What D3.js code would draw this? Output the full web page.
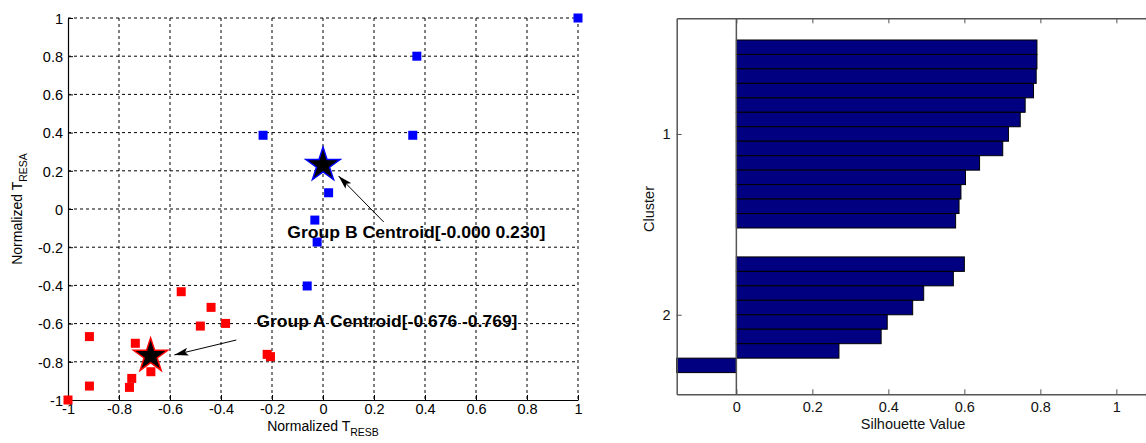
<!DOCTYPE html>
<html><head><meta charset="utf-8">
<script src="https://cdn.jsdelivr.net/npm/d3@7"></script>
<style>
html,body{margin:0;padding:0;background:#fff;}
svg{display:block;font-family:"Liberation Sans",Arial,sans-serif;}
</style></head>
<body>
<svg id="c" width="1146" height="443"></svg>
<script>
// ---------- data ----------
const groupA_x = [-1.000,-0.916,-0.916,-0.556,-0.439,-0.481,-0.382,-0.736,-0.750,-0.759,-0.675,-0.219,-0.206];
const groupA_y = [-1.000,-0.668,-0.927,-0.433,-0.515,-0.613,-0.599,-0.703,-0.887,-0.934,-0.852,-0.761,-0.773];
const groupB_x = [1.000,0.368,0.352,-0.235,0.022,-0.032,-0.023,-0.062];
const groupB_y = [1.000,0.800,0.386,0.386,0.085,-0.058,-0.173,-0.403];
const centroidA = [-0.676,-0.769];
const centroidB = [-0.000,0.230];
const labelA = "Group A Centroid[-0.676 -0.769]";
const labelB = "Group B Centroid[-0.000 0.230]";
const scatterTicks = [-1,-0.8,-0.6,-0.4,-0.2,0,0.2,0.4,0.6,0.8,1];

const clusterNames = ["1","2"];
const silhouette1 = [0.791,0.791,0.789,0.782,0.760,0.747,0.716,0.701,0.640,0.603,0.591,0.586,0.577];
const silhouette2 = [0.600,0.571,0.493,0.464,0.397,0.381,0.270,-0.157];
const silTicks = [0,0.2,0.4,0.6,0.8,1];

const svg = d3.select("#c");
const fmt = d => String(+d.toFixed(1));
const FONT = "Liberation Sans, Arial, sans-serif";

// ---------- left scatter ----------
const L = {x0:68, x1:578, y0:18, y1:400};
const x = d3.scaleLinear().domain([-1,1]).range([L.x0,L.x1]);
const y = d3.scaleLinear().domain([-1,1]).range([L.y1,L.y0]);
const g1 = svg.append("g");

// grid
g1.append("g").selectAll("line").data(scatterTicks.filter(t=>t>-1)).join("line")
  .attr("x1",d=>x(d)).attr("x2",d=>x(d)).attr("y1",L.y0).attr("y2",L.y1)
  .attr("stroke","#000").attr("stroke-width",1).attr("stroke-dasharray","3,3");
g1.append("g").selectAll("line").data(scatterTicks.filter(t=>t>-1)).join("line")
  .attr("y1",d=>y(d)).attr("y2",d=>y(d)).attr("x1",L.x0).attr("x2",L.x1)
  .attr("stroke","#000").attr("stroke-width",1).attr("stroke-dasharray","3,3");

// axes
const ax = g1.append("g").attr("transform",`translate(0,${L.y1})`)
  .call(d3.axisBottom(x).tickValues(scatterTicks).tickFormat(fmt).tickSizeInner(-5).tickSizeOuter(0).tickPadding(4));
const ay = g1.append("g").attr("transform",`translate(${L.x0},0)`)
  .call(d3.axisLeft(y).tickValues(scatterTicks).tickFormat(fmt).tickSizeInner(-5).tickSizeOuter(0).tickPadding(5));
[ax,ay].forEach(a=>{
  a.select(".domain").attr("stroke","#000").attr("stroke-width",1.2);
  a.selectAll(".tick line").attr("stroke","#000");
  a.selectAll("text").attr("font-size",14.5).attr("fill","#000").attr("font-family",FONT);
});
ay.selectAll("text").attr("dy","0.36em");

// points
const sq = 9;
g1.append("g").selectAll("rect").data(d3.zip(groupA_x,groupA_y)).join("rect")
  .attr("x",d=>x(d[0])-sq/2).attr("y",d=>y(d[1])-sq/2).attr("width",sq).attr("height",sq)
  .attr("fill","#ff0000");
g1.append("g").selectAll("rect").data(d3.zip(groupB_x,groupB_y)).join("rect")
  .attr("x",d=>x(d[0])-sq/2).attr("y",d=>y(d[1])-sq/2).attr("width",sq).attr("height",sq)
  .attr("fill","#0000ff");

// stars
function starPath(R){
  const r = R*0.382, pts=[];
  for(let i=0;i<10;i++){
    const a = -Math.PI/2 + i*Math.PI/5, rr = i%2?r:R;
    pts.push([rr*Math.cos(a), rr*Math.sin(a)]);
  }
  return "M"+pts.map(p=>p.join(",")).join("L")+"Z";
}
[[centroidA,"#ff0000"],[centroidB,"#0000ff"]].forEach(([c,col])=>{
  g1.append("path").attr("d",starPath(18)).attr("transform",`translate(${x(c[0])},${y(c[1])})`)
    .attr("fill","#000").attr("stroke",col).attr("stroke-width",1.5).attr("stroke-linejoin","miter");
});

// arrows + labels
svg.append("defs").append("marker").attr("id","ah").attr("viewBox","0 0 14 8")
  .attr("refX",14).attr("refY",4).attr("markerWidth",14).attr("markerHeight",8)
  .attr("markerUnits","userSpaceOnUse").attr("orient","auto")
  .append("path").attr("d","M0,0 L14,4 L0,8 L3,4 Z").attr("fill","#000");
const arrows = [
  {from:[-0.340,-0.686], to:[-0.583,-0.764], text:labelA, at:[-0.261,-0.618], w:261},
  {from:[0.238,-0.068], to:[0.061,0.173], text:labelB, at:[-0.140,-0.152], w:258}
];
arrows.forEach(a=>{
  g1.append("line").attr("x1",x(a.from[0])).attr("y1",y(a.from[1]))
    .attr("x2",x(a.to[0])).attr("y2",y(a.to[1]))
    .attr("stroke","#000").attr("stroke-width",1).attr("marker-end","url(#ah)");
  g1.append("text").attr("x",x(a.at[0])).attr("y",y(a.at[1]))
    .attr("font-size",16).attr("font-weight","bold").attr("fill","#000")
    .attr("textLength",a.w).attr("lengthAdjust","spacingAndGlyphs").text(a.text);
});

// axis labels
const xl = g1.append("text").attr("x",(L.x0+L.x1)/2).attr("y",430.5).attr("text-anchor","middle")
  .attr("font-size",14).attr("fill","#000");
xl.append("tspan").text("Normalized T");
xl.append("tspan").attr("font-size",10.5).attr("dy",5).text("RESB");
const yl = g1.append("text").attr("transform",`translate(22,${(L.y0+L.y1)/2}) rotate(-90)`)
  .attr("text-anchor","middle").attr("font-size",14).attr("fill","#000");
yl.append("tspan").text("Normalized T");
yl.append("tspan").attr("font-size",10.5).attr("dy",5).text("RESA");

// ---------- right silhouette ----------
const R = {x0:676.7, y0:18.3, y1:394.3};
const xs = d3.scaleLinear().domain([d3.min(silhouette2.concat(silhouette1)),1.1]).range([R.x0,R.x0+1.257*380]);
const margin = 1.5, gap = 2;
const clusters = [silhouette1, silhouette2];
const total = 2*margin + d3.sum(clusters,c=>c.length) + gap*(clusters.length-1);
const ys = d3.scaleLinear().domain([0,total]).range([R.y0,R.y1]);
const bars = [], clusterCenters = [];
let pos = margin;
clusters.forEach((c,ci)=>{
  clusterCenters.push(pos + c.length/2);
  c.forEach(v=>{bars.push({v, s:pos}); pos += 1;});
  pos += gap;
});
const g2 = svg.append("g");
g2.append("g").selectAll("rect").data(bars).join("rect")
  .attr("x",d=>xs(Math.min(0,d.v))).attr("width",d=>Math.abs(xs(d.v)-xs(0)))
  .attr("y",d=>ys(d.s)).attr("height",d=>ys(d.s+1)-ys(d.s))
  .attr("fill","#000080").attr("stroke","#000").attr("stroke-width",1);
// zero line
g2.append("line").attr("x1",xs(0)).attr("x2",xs(0)).attr("y1",R.y0).attr("y2",R.y1)
  .attr("stroke","#555").attr("stroke-width",1.5);
// bottom axis
const bx = g2.append("g").attr("transform",`translate(0,${R.y1})`)
  .call(d3.axisBottom(xs).tickValues(silTicks).tickFormat(fmt).tickSizeInner(-5).tickSizeOuter(0).tickPadding(7));
const tx = g2.append("g").attr("transform",`translate(0,${R.y0})`)
  .call(d3.axisTop(xs).tickValues(silTicks).tickFormat("").tickSizeInner(-5).tickSizeOuter(0));
const ly = g2.append("g").attr("transform",`translate(${R.x0},0)`)
  .call(d3.axisLeft(ys).tickValues(clusterCenters).tickFormat((d,i)=>clusterNames[i]).tickSizeInner(-5).tickSizeOuter(0).tickPadding(6));
[bx,tx,ly].forEach(a=>{
  a.select(".domain").attr("stroke","#555").attr("stroke-width",1.5);
  a.selectAll(".tick line").attr("stroke","#555");
  a.selectAll("text").attr("font-size",14.5).attr("fill","#111").attr("font-family",FONT);
});
g2.append("text").attr("x",913).attr("y",429).attr("text-anchor","middle")
  .attr("font-size",14.5).attr("fill","#111").text("Silhouette Value");
g2.append("text").attr("transform",`translate(654,209) rotate(-90)`).attr("text-anchor","middle")
  .attr("font-size",14.5).attr("fill","#111").text("Cluster");
</script>
</body></html>
